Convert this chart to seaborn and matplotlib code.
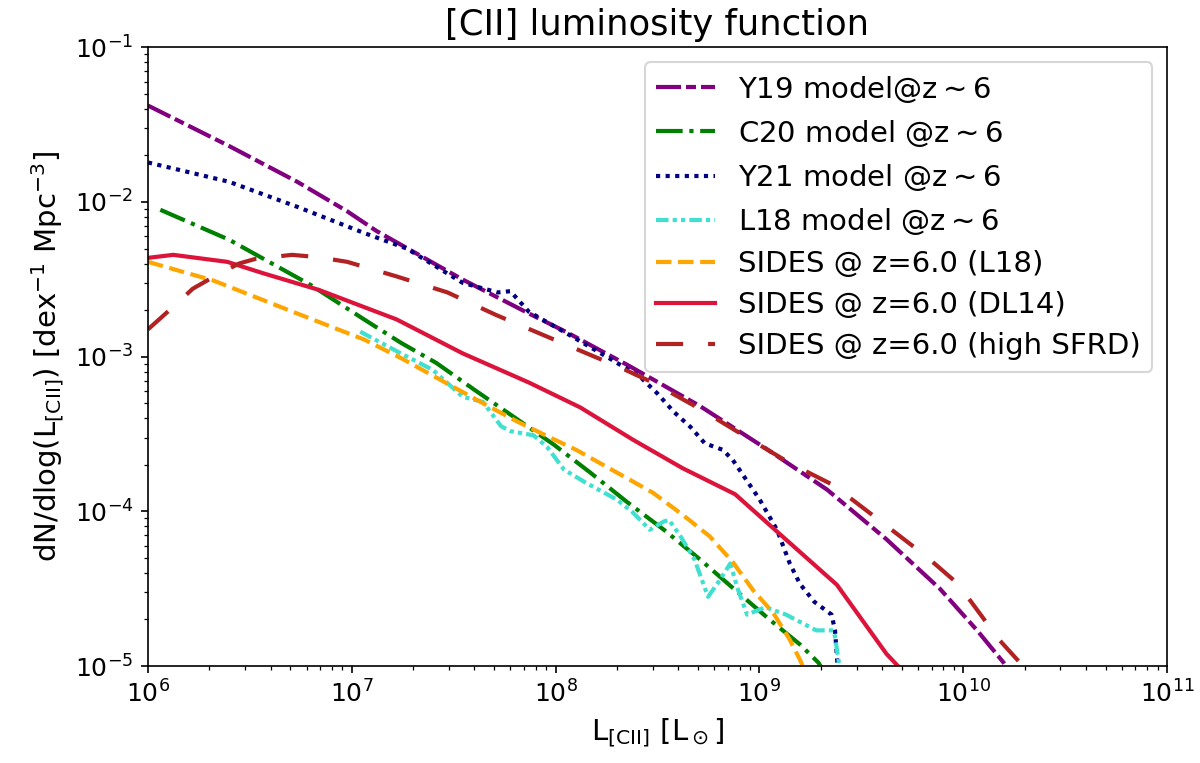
import numpy as np
import seaborn as sns
import matplotlib
matplotlib.use("Agg")
import matplotlib.pyplot as plt

# values (L in Lsun, phi in dex^-1 Mpc^-3)
y19_L = [1.0e6, 2.5e6, 5.4e6, 9.5e6, 1.32e7, 3.5e7, 7.4e7, 1.12e8, 2.3e8, 5.1e8,
         1.1e9, 2.15e9, 4.2e9, 7.7e9, 1.17e10, 1.58e10, 2.0e10]
y19_phi = [4.2e-2, 2.3e-2, 1.35e-2, 8.7e-3, 6.5e-3, 3.15e-3, 1.9e-3, 1.45e-3, 8.7e-4, 4.8e-4,
           2.5e-4, 1.38e-4, 6.6e-5, 3.15e-5, 1.7e-5, 1.05e-5, 7e-6]

c20_L = [1.15e6, 2.5e6, 6.3e6, 1.15e7, 1.74e7, 2.6e7, 4.0e7, 6.2e7, 9.8e7, 1.48e8,
         2.24e8, 3.4e8, 5.1e8, 7.4e8, 1.12e9, 1.58e9, 1.95e9, 2.1e9]
c20_phi = [8.9e-3, 5.7e-3, 2.9e-3, 1.74e-3, 1.23e-3, 9.1e-4, 6.1e-4, 4.1e-4, 2.7e-4, 1.78e-4,
           1.15e-4, 7.6e-5, 4.9e-5, 3.2e-5, 2.0e-5, 1.38e-5, 1.05e-5, 8.9e-6]

y21_L = [1.0e6, 2.5e6, 5.4e6, 1.15e7, 1.86e7, 3.5e7, 5.2e7, 6.0e7, 7.4e7, 1.17e8, 1.9e8, 2.6e8,
         3.15e8, 3.8e8, 4.6e8, 5.4e8, 6.6e8, 7.4e8, 1.0e9, 1.22e9, 1.41e9, 1.58e9,
         1.86e9, 2.26e9, 2.35e9, 2.45e9]
y21_phi = [1.8e-2, 1.35e-2, 9.3e-3, 6.3e-3, 5.0e-3, 3.0e-3, 2.6e-3, 2.65e-3, 1.95e-3, 1.38e-3, 9.5e-4, 7.4e-4,
           5.8e-4, 4.4e-4, 3.5e-4, 2.75e-4, 2.5e-4, 2.15e-4, 1.2e-4, 7.6e-5, 4.6e-5, 3.4e-5,
           2.6e-5, 2.15e-5, 1.7e-5, 8e-6]

l18_L = [1.1e7, 1.74e7, 2.5e7, 3.5e7, 4.4e7, 5.4e7, 6.0e7, 7.8e7, 9.1e7, 1.1e8,
         1.42e8, 2.0e8, 2.4e8, 2.9e8, 3.4e8, 3.6e8, 4.1e8, 4.8e8, 5.6e8, 6.4e8,
         7.2e8, 7.8e8, 8.7e8, 1.07e9, 1.35e9, 1.9e9, 2.3e9, 2.35e9, 2.5e9]
l18_phi = [1.45e-3, 1.05e-3, 8.2e-4, 5.5e-4, 5.1e-4, 3.55e-4, 3.3e-4, 3.1e-4, 2.6e-4, 1.86e-4,
           1.52e-4, 1.19e-4, 9.8e-5, 7.6e-5, 8.6e-5, 8.8e-5, 6.9e-5, 4.9e-5, 2.8e-5, 3.6e-5,
           4.6e-5, 3.2e-5, 2.15e-5, 2.4e-5, 2.15e-5, 1.7e-5, 1.7e-5, 1.55e-5, 8.9e-6]

sides_l18_L = [1.0e6, 2.1e6, 5.4e6, 1.15e7, 1.74e7, 3.0e7, 4.4e7, 6.5e7, 9.4e7, 1.26e8,
               2.0e8, 3.0e8, 4.2e8, 5.7e8, 7.4e8, 9.3e8, 1.17e9, 1.41e9, 1.58e9, 1.7e9]
sides_l18_phi = [4.1e-3, 3.1e-3, 1.9e-3, 1.29e-3, 9.8e-4, 6.6e-4, 5.0e-4, 3.8e-4, 3.0e-4, 2.5e-4,
                 1.78e-4, 1.32e-4, 9.5e-5, 6.9e-5, 4.7e-5, 3.1e-5, 2.2e-5, 1.48e-5, 1.1e-5, 8.9e-6]

sides_dl14_L = [1.0e6, 1.33e6, 2.45e6, 3.7e6, 6.9e6, 1.66e7, 3.5e7, 7.4e7, 1.32e8, 2.4e8,
                4.2e8, 7.6e8, 1.22e9, 2.4e9, 4.2e9, 5.2e9]
sides_dl14_phi = [4.35e-3, 4.55e-3, 4.1e-3, 3.45e-3, 2.7e-3, 1.74e-3, 1.05e-3, 6.8e-4, 4.7e-4, 2.9e-4,
                  1.9e-4, 1.29e-4, 7.4e-5, 3.35e-5, 1.2e-5, 8.9e-6]

sides_hi_L = [1.0e6, 1.33e6, 1.66e6, 2.2e6, 2.8e6, 3.4e6, 5.1e6, 6.8e6, 9.5e6, 1.66e7,
              2.95e7, 5.1e7, 8.7e7, 1.55e8, 2.0e8, 3.0e8, 5.1e8, 8.7e8, 1.41e9, 2.3e9,
              3.9e9, 6.6e9, 9.3e9, 1.05e10, 1.5e10, 1.9e10, 2.1e10]
sides_hi_phi = [1.5e-3, 2.1e-3, 2.75e-3, 3.4e-3, 4.0e-3, 4.3e-3, 4.55e-3, 4.4e-3, 4.1e-3, 3.3e-3,
                2.6e-3, 1.86e-3, 1.38e-3, 1.0e-3, 8.7e-4, 6.8e-4, 4.6e-4, 3.0e-4, 2.05e-4, 1.48e-4,
                8.7e-5, 5.1e-5, 3.45e-5, 2.8e-5, 1.48e-5, 1.05e-5, 8.9e-6]

fig, ax = plt.subplots(figsize=(8, 5.087), dpi=150)
fig.subplots_adjust(left=0.1233, right=0.9725, bottom=0.1271, top=0.938)

lw = 2
series = [
    (y19_L, y19_phi, "purple", (0, (6, 1.2, 2.4, 1.2)), r"Y19 model@z$\sim$6"),
    (c20_L, c20_phi, "green", "-.", r"C20 model @z$\sim$6"),
    (y21_L, y21_phi, "navy", (0, (1, 1.3)), r"Y21 model @z$\sim$6"),
    (l18_L, l18_phi, "turquoise", (0, (3, 1, 1, 1, 1, 1)), r"L18 model @z$\sim$6"),
    (sides_l18_L, sides_l18_phi, "orange", "--", "SIDES @ z=6.0 (L18)"),
    (sides_dl14_L, sides_dl14_phi, "crimson", "-", "SIDES @ z=6.0 (DL14)"),
    (sides_hi_L, sides_hi_phi, "firebrick", (0, (6.5, 6)), "SIDES @ z=6.0 (high SFRD)"),
]
for L, phi, col, ls, lab in series:
    sns.lineplot(x=np.array(L), y=np.array(phi), ax=ax, color=col, linestyle=ls,
                 linewidth=lw, label=lab, sort=False, estimator=None)

ax.set_xscale("log")
ax.set_yscale("log")
ax.set_xlim(1e6, 1e11)
ax.set_ylim(1e-5, 1e-1)
ax.tick_params(labelsize=12)
ax.set_title("[CII] luminosity function", fontsize=17)
ax.set_xlabel(r"L$_{\rm [CII]}$ [L$_\odot$]", fontsize=14)
ax.set_ylabel(r"dN/dlog(L$_{\rm [CII]}$) [dex$^{-1}$ Mpc$^{-3}$]", fontsize=14)
ax.legend(loc="upper right", fontsize=14, labelspacing=0.45)

fig.savefig("out.png", dpi=150)
